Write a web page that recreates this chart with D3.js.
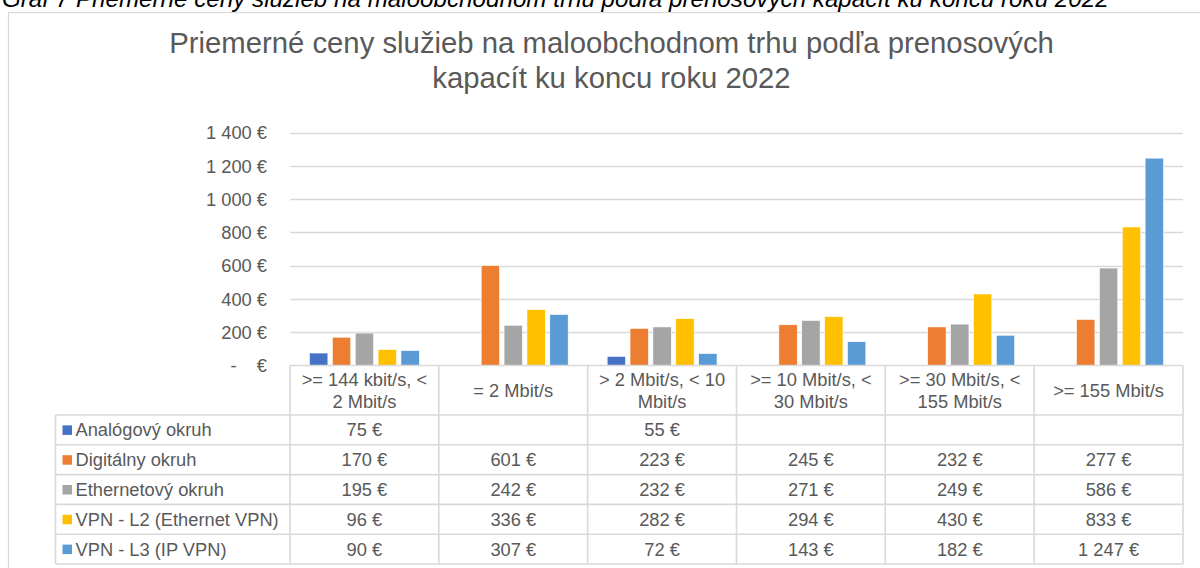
<!DOCTYPE html>
<html>
<head>
<meta charset="utf-8">
<script src="https://cdn.jsdelivr.net/npm/d3@7"></script>
<style>
  html, body { margin: 0; padding: 0; background: #fff; }
  svg { display: block; font-family: "Liberation Sans", Arial, sans-serif; }
</style>
</head>
<body>
<svg id="chart" width="1200" height="568"></svg>
<script>
// ---- data ----
const caption = "Graf 7 Priemerné ceny služieb na maloobchodnom trhu podľa prenosových kapacít ku koncu roku 2022";
const titleLines = ["Priemerné ceny služieb na maloobchodnom trhu podľa prenosových", "kapacít ku koncu roku 2022"];
const categories = [">= 144 kbit/s, < 2 Mbit/s", "= 2 Mbit/s", "> 2 Mbit/s, < 10 Mbit/s", ">= 10 Mbit/s, < 30 Mbit/s", ">= 30 Mbit/s, < 155 Mbit/s", ">= 155 Mbit/s"];
const categoryLines = [[">= 144 kbit/s, <", "2 Mbit/s"], ["= 2 Mbit/s"], ["> 2 Mbit/s, < 10", "Mbit/s"], [">= 10 Mbit/s, <", "30 Mbit/s"], [">= 30 Mbit/s, <", "155 Mbit/s"], [">= 155 Mbit/s"]];
const seriesNames = ["Analógový okruh", "Digitálny okruh", "Ethernetový okruh", "VPN - L2 (Ethernet VPN)", "VPN - L3 (IP VPN)"];
const analogovy = [75, null, 55, null, null, null];
const digitalny = [170, 601, 223, 245, 232, 277];
const ethernetovy = [195, 242, 232, 271, 249, 586];
const vpnL2 = [96, 336, 282, 294, 430, 833];
const vpnL3 = [90, 307, 72, 143, 182, 1247];
const yTicks = [0, 200, 400, 600, 800, 1000, 1200, 1400];
const colors = ["#4472C4", "#ED7D31", "#A5A5A5", "#FFC000", "#5B9BD5"];

const seriesValues = [analogovy, digitalny, ethernetovy, vpnL2, vpnL3];

// ---- layout ----
const svg = d3.select("#chart");
const plotLeft = 290, plotRight = 1183;
const y0 = 365.5, yTop = 132.7;
const tableLeft = 55.5;
const headerBottom = 415;
const rowH = 29.8;
const textColor = "#595959";
const lineColor = "#d9d9d9";
const fs = 18.3;

const loc = d3.formatLocale({decimal: ",", thousands: "\u00a0", grouping: [3], currency: ["", "\u00a0€"]});
const fmt = loc.format("$,.0f");

const x0 = d3.scaleBand().domain(categories).range([plotLeft, plotRight]).paddingInner(0).paddingOuter(0);
const x1 = d3.scaleBand().domain(seriesNames).range([19.5, x0.bandwidth() - 19.5]).paddingInner(0.196).paddingOuter(0);
const y = d3.scaleLinear().domain([0, 1400]).range([y0, yTop]);

// frame
svg.append("rect").attr("x", 8.5).attr("y", 12.5).attr("width", 1220).attr("height", 600)
  .attr("fill", "#fff").attr("stroke", lineColor).attr("stroke-width", 1.2);

// caption (cut at top, as in the reference)
svg.append("text").attr("x", 2).attr("y", 7).attr("font-size", 24.2).attr("font-style", "italic")
  .attr("fill", "#000").text(caption);

// title
svg.append("text").attr("text-anchor", "middle").attr("font-size", 29.3).attr("fill", textColor)
  .selectAll("tspan").data(titleLines).join("tspan")
  .attr("x", 611.5).attr("y", (d, i) => 53 + i * 35).text(d => d);

// gridlines
svg.append("g").selectAll("line").data(yTicks.filter(t => t > 0)).join("line")
  .attr("x1", plotLeft).attr("x2", plotRight)
  .attr("y1", d => Math.round(y(d)) + 0.5).attr("y2", d => Math.round(y(d)) + 0.5)
  .attr("stroke", lineColor).attr("stroke-width", 1.3);

// y axis via d3.axisLeft (no line, no ticks)
const yAxis = d3.axisLeft(y).tickValues(yTicks).tickSize(0).tickPadding(0)
  .tickFormat(d => d === 0 ? "-\u00a0\u00a0\u00a0\u00a0€" : fmt(d));
const gy = svg.append("g").attr("transform", "translate(267,0)").call(yAxis);
gy.select(".domain").remove();
gy.selectAll("text").attr("font-size", fs).attr("fill", textColor)
  .attr("font-family", "'Liberation Sans', Arial, sans-serif").attr("dy", "0.34em");

// bars
const gBars = svg.append("g");
seriesValues.forEach((vals, si) => {
  gBars.append("g").selectAll("rect")
    .data(vals.map((v, ci) => ({v, c: categories[ci]})).filter(d => d.v != null))
    .join("rect")
    .attr("x", d => x0(d.c) + x1(seriesNames[si]))
    .attr("width", x1.bandwidth())
    .attr("y", d => y(d.v))
    .attr("height", d => y0 - y(d.v))
    .attr("fill", colors[si])
    .attr("stroke", "#fff").attr("stroke-width", 0.6);
});

// data table
const gT = svg.append("g");
const colEdges = categories.map(c => x0(c)).concat([plotRight]);
const tableBottom = headerBottom + rowH * seriesNames.length;
gT.append("line").attr("x1", plotLeft).attr("x2", plotRight).attr("y1", y0).attr("y2", y0)
  .attr("stroke", lineColor).attr("stroke-width", 1.6);
d3.range(seriesNames.length + 1).forEach(i => {
  const yy = headerBottom + i * rowH;
  gT.append("line").attr("x1", tableLeft).attr("x2", plotRight).attr("y1", yy).attr("y2", yy)
    .attr("stroke", lineColor).attr("stroke-width", 1.6);
});
colEdges.forEach(xx => {
  gT.append("line").attr("x1", xx).attr("x2", xx).attr("y1", y0).attr("y2", tableBottom)
    .attr("stroke", lineColor).attr("stroke-width", 1.6);
});
gT.append("line").attr("x1", tableLeft).attr("x2", tableLeft).attr("y1", headerBottom).attr("y2", tableBottom)
  .attr("stroke", lineColor).attr("stroke-width", 1.6);

// header labels
categories.forEach((c, ci) => {
  const lines = categoryLines[ci];
  const cx = x0(c) + x0.bandwidth() / 2;
  const cy = (y0 + headerBottom) / 2;
  const t = gT.append("text").attr("text-anchor", "middle").attr("font-size", fs).attr("fill", textColor);
  t.selectAll("tspan").data(lines).join("tspan")
    .attr("x", cx)
    .attr("y", (d, i) => cy + (i - (lines.length - 1) / 2) * 22)
    .attr("dy", "0.35em")
    .text(d => d);
});

// rows
seriesNames.forEach((name, si) => {
  const cy = headerBottom + si * rowH + rowH / 2;
  gT.append("rect").attr("x", 62.5).attr("y", cy - 4.5).attr("width", 9.5).attr("height", 9.5).attr("fill", colors[si]);
  gT.append("text").attr("x", 75.5).attr("y", cy).attr("dy", "0.35em").attr("font-size", fs).attr("fill", textColor).text(name);
  seriesValues[si].forEach((v, ci) => {
    if (v == null) return;
    gT.append("text").attr("x", x0(categories[ci]) + x0.bandwidth() / 2).attr("y", cy).attr("dy", "0.35em")
      .attr("text-anchor", "middle").attr("font-size", fs).attr("fill", textColor).text(fmt(v));
  });
});
</script>
</body>
</html>
